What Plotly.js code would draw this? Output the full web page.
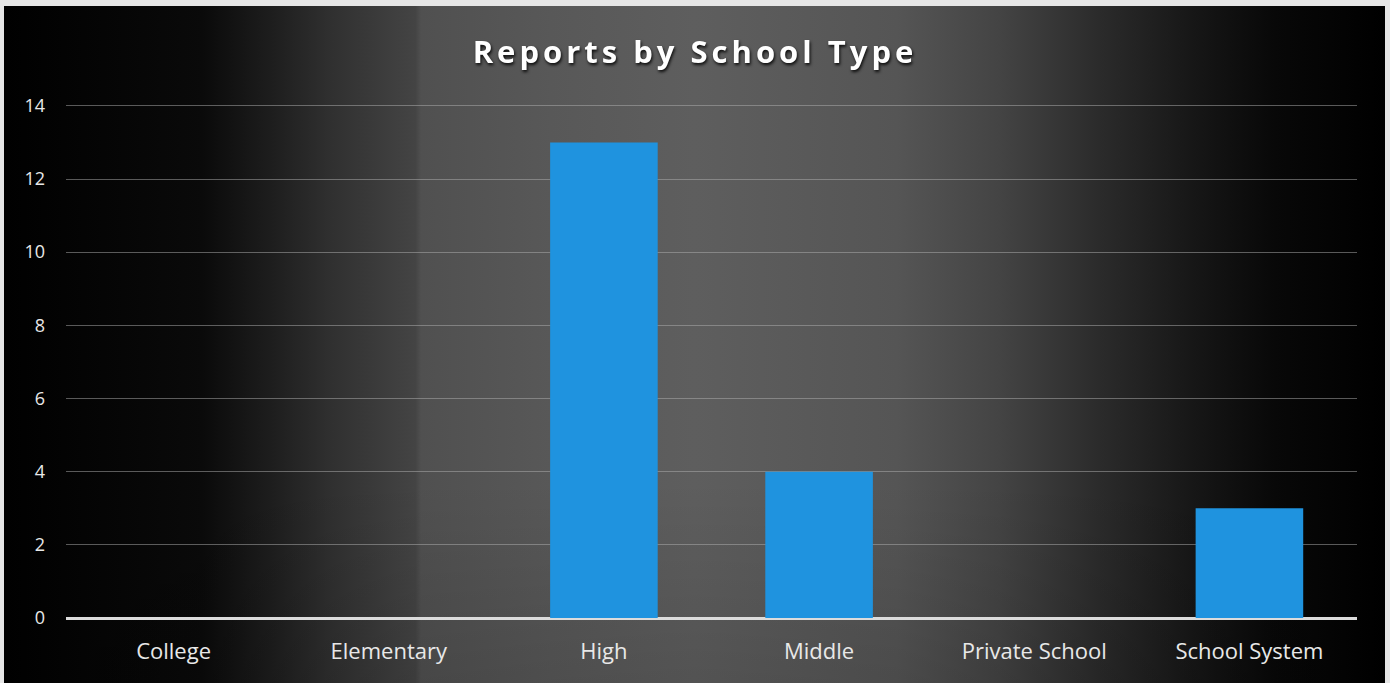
<!DOCTYPE html>
<html>
<head>
<meta charset="utf-8">
<script src="https://cdn.plot.ly/plotly-3.0.1.min.js"></script>
<style>
  html, body { margin: 0; padding: 0; background: #ececec; }
  #wrap {
    position: absolute; left: 0; top: 0; width: 1390px; height: 683px;
    box-sizing: border-box;
    border-top: 6px solid #e6e6e6;
    border-left: 4px solid #e6e6e6;
    border-right: 5px solid #e6e6e6;
    background:
      linear-gradient(to bottom, rgba(0,0,0,0) 0%, rgba(0,0,0,0) 70%, rgba(0,0,0,0.12) 100%),
      linear-gradient(to right, #000 0%, #0a0a0a 14.4%, #202020 20%, #303030 23.7%, #444444 29.8%, #505050 30.2%, #585858 39.6%, #5e5e5e 50%, #555555 64.7%, #444444 72%, #2c2c2c 79%, #161616 86.3%, #080808 92%, #000 100%);
  }
  #chart { position: absolute; left: 0; top: 0; width: 1390px; height: 683px; }
  .gtitle { letter-spacing: 4px; filter: drop-shadow(1px 2px 1.5px rgba(0,0,0,0.85)); }
</style>
</head>
<body>
<div id="wrap"></div>
<div id="chart"></div>
<script>
const categories = ["College", "Elementary", "High", "Middle", "Private School", "School System"];
const reports = [0, 0, 13, 4, 0, 3];
const yTicks = [0, 2, 4, 6, 8, 10, 12, 14];

const data = [{
  type: "bar",
  x: categories,
  y: reports,
  marker: { color: "#1F93DF", line: { width: 0 } },
  hoverinfo: "x+y"
}];

const layout = {
  width: 1390,
  height: 683,
  paper_bgcolor: "rgba(0,0,0,0)",
  plot_bgcolor: "rgba(0,0,0,0)",
  margin: { l: 66, r: 33, t: 104, b: 65 },
  bargap: 0.5,
  showlegend: false,
  title: {
    text: "<b>Reports by School Type</b>",
    font: { family: "Open Sans, sans-serif", size: 31, color: "#ffffff" },
    x: 0.5, xanchor: "center",
    y: 1 - 52 / 683, yanchor: "middle"
  },
  xaxis: {
    type: "category",
    showgrid: false,
    showline: false,
    zeroline: false,
    ticks: "",
    tickfont: { family: "Open Sans, sans-serif", size: 22, color: "#e8e8e8" },
    ticklabelstandoff: 18
  },
  yaxis: {
    range: [0, 14.05],
    tickvals: yTicks,
    ticktext: yTicks.map(String),
    showgrid: true,
    gridcolor: "rgba(175,175,175,0.5)",
    gridwidth: 1,
    zeroline: true,
    zerolinecolor: "#dcdcdc",
    zerolinewidth: 3,
    showline: false,
    ticks: "",
    tickfont: { family: "Open Sans, sans-serif", size: 18, color: "#e8e8e8" },
    ticklabelstandoff: 20
  }
};

Plotly.newPlot("chart", data, layout, { displayModeBar: false, staticPlot: true });
</script>
</body>
</html>
